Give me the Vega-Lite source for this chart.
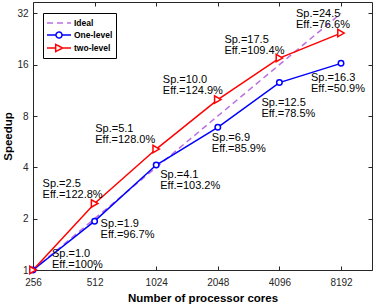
{
  "$schema": "https://vega.github.io/schema/vega-lite/v6.json",
  "width": 339,
  "height": 268,
  "autosize": {"type": "none"},
  "padding": {"left": 33, "top": 2, "right": 2, "bottom": 35},
  "background": "white",
  "config": {
    "view": {"stroke": null},
    "font": "Liberation Sans",
    "axis": {
      "grid": false,
      "tickSize": -4,
      "tickColor": "#262626",
      "tickWidth": 1,
      "domainColor": "#262626",
      "domainWidth": 1,
      "labelFlush": false,
      "labelOverlap": false,
      "labelFont": "Liberation Sans",
      "labelFontSize": 10,
      "labelColor": "#262626",
      "titleFont": "Liberation Sans",
      "titleFontWeight": "bold",
      "titleFontSize": 11.5,
      "titleColor": "#000000"
    },
    "legend": {
      "orient": "none",
      "legendX": 10,
      "legendY": 11,
      "title": null,
      "strokeColor": "#000000",
      "fillColor": "white",
      "padding": 3,
      "symbolSize": 144,
      "symbolStrokeWidth": 1.5,
      "labelOffset": 14,
      "labelFont": "Liberation Sans",
      "labelFontWeight": "bold",
      "labelFontSize": 8.5,
      "labelColor": "#000000",
      "rowPadding": 0
    }
  },
  "data": {
    "values": [
      {"cores": 256, "speedup": 1, "series": "Ideal", "label": null},
      {"cores": 512, "speedup": 2, "series": "Ideal", "label": null},
      {"cores": 1024, "speedup": 4, "series": "Ideal", "label": null},
      {"cores": 2048, "speedup": 8, "series": "Ideal", "label": null},
      {"cores": 4096, "speedup": 16, "series": "Ideal", "label": null},
      {"cores": 8192, "speedup": 32, "series": "Ideal", "label": null},
      {"cores": 256, "speedup": 1.0, "series": "One-level", "label": "Sp.=1.0\nEff.=100%"},
      {"cores": 512, "speedup": 1.934, "series": "One-level", "label": "Sp.=1.9\nEff.=96.7%"},
      {"cores": 1024, "speedup": 4.128, "series": "One-level", "label": "Sp.=4.1\nEff.=103.2%"},
      {"cores": 2048, "speedup": 6.872, "series": "One-level", "label": "Sp.=6.9\nEff.=85.9%"},
      {"cores": 4096, "speedup": 12.56, "series": "One-level", "label": "Sp.=12.5\nEff.=78.5%"},
      {"cores": 8192, "speedup": 16.29, "series": "One-level", "label": "Sp.=16.3\nEff.=50.9%"},
      {"cores": 256, "speedup": 1.0, "series": "two-level", "label": null},
      {"cores": 512, "speedup": 2.456, "series": "two-level", "label": "Sp.=2.5\nEff.=122.8%"},
      {"cores": 1024, "speedup": 5.12, "series": "two-level", "label": "Sp.=5.1\nEff.=128.0%"},
      {"cores": 2048, "speedup": 9.992, "series": "two-level", "label": "Sp.=10.0\nEff.=124.9%"},
      {"cores": 4096, "speedup": 17.5, "series": "two-level", "label": "Sp.=17.5\nEff.=109.4%"},
      {"cores": 8192, "speedup": 24.51, "series": "two-level", "label": "Sp.=24.5\nEff.=76.6%"}
    ]
  },
  "resolve": {"axis": {"x": "independent", "y": "independent"}},
  "layer": [
    {
      "transform": [{"filter": "datum.series == 'Ideal'"}],
      "mark": {"type": "line", "strokeWidth": 1.5, "strokeDash": [6, 4]},
      "encoding": {
        "x": {"field": "cores", "type": "quantitative",
              "scale": {"type": "log", "base": 2, "domain": [256, 11610], "nice": false},
              "axis": {"orient": "bottom", "values": [256, 512, 1024, 2048, 4096, 8192], "format": "d", "labelPadding": 11, "title": "Number of processor cores", "titlePadding": 5}},
        "y": {"field": "speedup", "type": "quantitative",
              "scale": {"type": "log", "base": 2, "domain": [1, 37.3], "nice": false},
              "axis": {"orient": "left", "values": [1, 2, 4, 8, 16, 32], "format": "d", "labelPadding": 9, "title": "Speedup", "titlePadding": 3}},
        "color": {"field": "series", "type": "nominal",
                  "scale": {"domain": ["Ideal", "One-level", "two-level"], "range": ["#BC6FE0", "#0000FF", "#FF0000"]},
                  "legend": {
                    "encode": {
                      "symbols": {
                        "update": {
                          "shape": {"signal": "datum.value === 'Ideal' ? 'M-1,0H3' : datum.value === 'One-level' ? 'M-1,0H0.5M1.5,0H3M1.5,0A0.5,0.5,0,1,1,0.5,0A0.5,0.5,0,1,1,1.5,0' : 'M-1,0H0.45M1.6,0H3M0.45,-0.6L1.6,0L0.45,0.6Z'"},
                          "strokeDash": {"signal": "datum.value === 'Ideal' ? [6, 4] : [1, 0]"},
                          "fill": {"value": "white"},
                          "fillOpacity": {"value": 1},
                          "strokeWidth": {"value": 1.5}
                        }
                      }
                    }
                  }}
      }
    },
    {
      "transform": [{"filter": "datum.series != 'Ideal'"}],
      "mark": {"type": "line", "strokeWidth": 1.5},
      "encoding": {
        "x": {"field": "cores", "type": "quantitative", "axis": null},
        "y": {"field": "speedup", "type": "quantitative", "axis": null},
        "color": {"field": "series", "type": "nominal"}
      }
    },
    {
      "transform": [{"filter": "datum.series != 'Ideal'"}],
      "mark": {"type": "point", "filled": false, "fill": "white", "fillOpacity": 1, "strokeWidth": 1.5, "opacity": 1},
      "encoding": {
        "x": {"field": "cores", "type": "quantitative",
              "axis": {"orient": "top", "values": [256, 512, 1024, 2048, 4096, 8192], "labels": false, "title": null}},
        "y": {"field": "speedup", "type": "quantitative",
              "axis": {"orient": "right", "values": [1, 2, 4, 8, 16, 32], "labels": false, "title": null}},
        "color": {"field": "series", "type": "nominal"},
        "shape": {"field": "series", "type": "nominal", "scale": {"domain": ["One-level", "two-level"], "range": ["circle", "triangle-right"]}, "legend": null},
        "size": {"field": "series", "type": "nominal", "scale": {"domain": ["One-level", "two-level"], "range": [30, 55]}, "legend": null}
      }
    },
    {"transform": [{"filter": "datum.series == 'One-level' && datum.cores == 256"}],
     "mark": {"type": "text", "align": "left", "baseline": "top", "dx": 19, "dy": -22, "fontSize": 11, "lineBreak": "\n", "lineHeight": 11, "color": "#000000"},
     "encoding": {"x": {"field": "cores", "type": "quantitative", "axis": null}, "y": {"field": "speedup", "type": "quantitative", "axis": null}, "text": {"field": "label"}}},
    {"transform": [{"filter": "datum.series == 'One-level' && datum.cores == 512"}],
     "mark": {"type": "text", "align": "left", "baseline": "top", "dx": 6, "dy": -3, "fontSize": 11, "lineBreak": "\n", "lineHeight": 11, "color": "#000000"},
     "encoding": {"x": {"field": "cores", "type": "quantitative", "axis": null}, "y": {"field": "speedup", "type": "quantitative", "axis": null}, "text": {"field": "label"}}},
    {"transform": [{"filter": "datum.series == 'One-level' && datum.cores == 1024"}],
     "mark": {"type": "text", "align": "left", "baseline": "top", "dx": 4, "dy": 4, "fontSize": 11, "lineBreak": "\n", "lineHeight": 11, "color": "#000000"},
     "encoding": {"x": {"field": "cores", "type": "quantitative", "axis": null}, "y": {"field": "speedup", "type": "quantitative", "axis": null}, "text": {"field": "label"}}},
    {"transform": [{"filter": "datum.series == 'One-level' && datum.cores == 2048"}],
     "mark": {"type": "text", "align": "left", "baseline": "top", "dx": -6, "dy": 5, "fontSize": 11, "lineBreak": "\n", "lineHeight": 11, "color": "#000000"},
     "encoding": {"x": {"field": "cores", "type": "quantitative", "axis": null}, "y": {"field": "speedup", "type": "quantitative", "axis": null}, "text": {"field": "label"}}},
    {"transform": [{"filter": "datum.series == 'One-level' && datum.cores == 4096"}],
     "mark": {"type": "text", "align": "left", "baseline": "top", "dx": -18, "dy": 14, "fontSize": 11, "lineBreak": "\n", "lineHeight": 11, "color": "#000000"},
     "encoding": {"x": {"field": "cores", "type": "quantitative", "axis": null}, "y": {"field": "speedup", "type": "quantitative", "axis": null}, "text": {"field": "label"}}},
    {"transform": [{"filter": "datum.series == 'One-level' && datum.cores == 8192"}],
     "mark": {"type": "text", "align": "left", "baseline": "top", "dx": -30, "dy": 9, "fontSize": 11, "lineBreak": "\n", "lineHeight": 11, "color": "#000000"},
     "encoding": {"x": {"field": "cores", "type": "quantitative", "axis": null}, "y": {"field": "speedup", "type": "quantitative", "axis": null}, "text": {"field": "label"}}},
    {"transform": [{"filter": "datum.series == 'two-level' && datum.cores == 512"}],
     "mark": {"type": "text", "align": "left", "baseline": "top", "dx": -52, "dy": -25, "fontSize": 11, "lineBreak": "\n", "lineHeight": 11, "color": "#000000"},
     "encoding": {"x": {"field": "cores", "type": "quantitative", "axis": null}, "y": {"field": "speedup", "type": "quantitative", "axis": null}, "text": {"field": "label"}}},
    {"transform": [{"filter": "datum.series == 'two-level' && datum.cores == 1024"}],
     "mark": {"type": "text", "align": "left", "baseline": "top", "dx": -61, "dy": -26, "fontSize": 11, "lineBreak": "\n", "lineHeight": 11, "color": "#000000"},
     "encoding": {"x": {"field": "cores", "type": "quantitative", "axis": null}, "y": {"field": "speedup", "type": "quantitative", "axis": null}, "text": {"field": "label"}}},
    {"transform": [{"filter": "datum.series == 'two-level' && datum.cores == 2048"}],
     "mark": {"type": "text", "align": "left", "baseline": "top", "dx": -55, "dy": -26, "fontSize": 11, "lineBreak": "\n", "lineHeight": 11, "color": "#000000"},
     "encoding": {"x": {"field": "cores", "type": "quantitative", "axis": null}, "y": {"field": "speedup", "type": "quantitative", "axis": null}, "text": {"field": "label"}}},
    {"transform": [{"filter": "datum.series == 'two-level' && datum.cores == 4096"}],
     "mark": {"type": "text", "align": "left", "baseline": "top", "dx": -55, "dy": -24, "fontSize": 11, "lineBreak": "\n", "lineHeight": 11, "color": "#000000"},
     "encoding": {"x": {"field": "cores", "type": "quantitative", "axis": null}, "y": {"field": "speedup", "type": "quantitative", "axis": null}, "text": {"field": "label"}}},
    {"transform": [{"filter": "datum.series == 'two-level' && datum.cores == 8192"}],
     "mark": {"type": "text", "align": "left", "baseline": "top", "dx": -45, "dy": -25, "fontSize": 11, "lineBreak": "\n", "lineHeight": 11, "color": "#000000"},
     "encoding": {"x": {"field": "cores", "type": "quantitative", "axis": null}, "y": {"field": "speedup", "type": "quantitative", "axis": null}, "text": {"field": "label"}}}
  ]
}
